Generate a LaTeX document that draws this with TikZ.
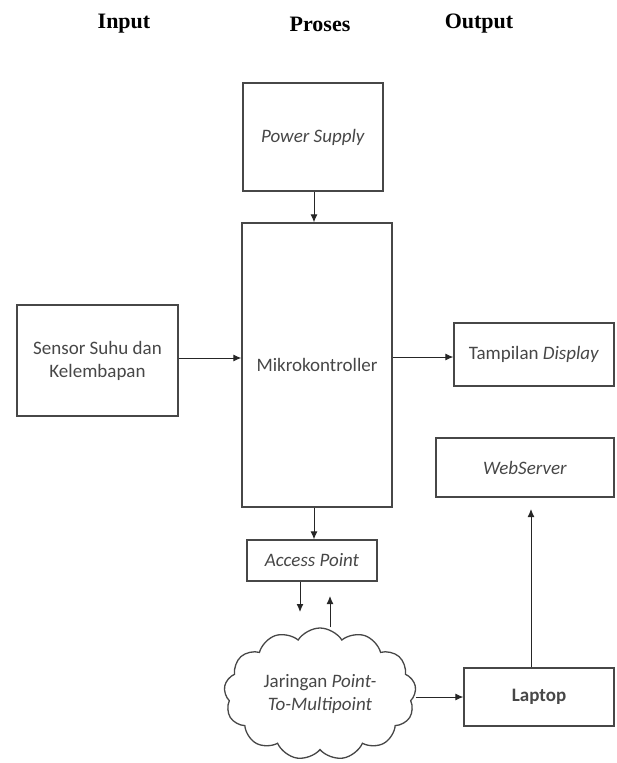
\documentclass[tikz,border=0pt]{standalone}
\usepackage{fontspec}
\setmainfont{Carlito}
\newfontfamily\judulfont{Liberation Serif}
\usetikzlibrary{arrows.meta,positioning,shapes.symbols}

\begin{document}
\begin{tikzpicture}[x=1pt,y=-1pt,
  font=\fontsize{19}{23}\selectfont,
  judul/.style={font=\judulfont\bfseries\fontsize{22}{26}\selectfont},
  blok/.style={draw=black!72,line width=1.3pt,text=black!72,align=center,inner sep=0pt},
  awan/.style={cloud,cloud puffs=13,cloud puff arc=115,aspect=1.45,draw=black!72,line width=1.3pt,text=black!72,align=center,inner sep=0pt},
  arr/.style={-{Latex[length=8pt,width=7pt]},line width=1pt,black!85}]
\useasboundingbox (0,0) rectangle (616,763);
% judul kolom
\node[judul] (jinput) at (124,24) {Input};
\node[judul] (jproses) at (320,24) {Proses};
\node[judul] (joutput) at (479,24) {Output};
% blok
\node[blok,minimum width=140pt,minimum height=108pt] (power) at (313,137) {\textit{Power Supply}};
\node[blok,minimum width=150pt,minimum height=284pt] (mikro) at (317,365) {Mikrokontroller};
\node[blok,minimum width=161pt,minimum height=111pt] (sensor) at (97.5,360.5) {Sensor Suhu dan\\Kelembapan};
\node[blok,minimum width=160pt,minimum height=63pt] (tampil) at (534,354.5) {Tampilan \textit{Display}};
\node[blok,minimum width=178pt,minimum height=59pt] (web) at (525,467.5) {\textit{WebServer}};
\node[blok,minimum width=130pt,minimum height=41pt] (ap) at (312,560.5) {\textit{Access Point}};
\node[awan,minimum width=192pt,minimum height=132pt] (jaringan) at (320,694) {Jaringan \textit{Point-}\\\textit{To-Multipoint}};
\node[blok,minimum width=150pt,minimum height=58pt,font=\fontsize{19}{23}\selectfont\bfseries] (laptop) at (539,697) {Laptop};
% titik bantu
\coordinate (turun) at (300,612);
\coordinate (naik) at (330,596);
\coordinate (keweb) at (531,509);
% panah
\draw[arr] (power.south -| 314,0) -- (mikro.north -| 314,0);
\draw[arr] (mikro.south -| 314,0) -- (ap.north -| 314,0);
\draw[arr] (sensor.east |- 0,358) -- (mikro.west |- 0,358);
\draw[arr] (mikro.east |- 0,357) -- (tampil.west |- 0,357);
\draw[arr] (ap.south -| turun) -- (turun);
\draw[arr] (jaringan.north -| naik) -- (naik);
\draw[arr] (jaringan.east |- laptop.west) -- (laptop.west);
\draw[arr] (laptop.north -| keweb) -- (keweb);
\end{tikzpicture}
\end{document}
